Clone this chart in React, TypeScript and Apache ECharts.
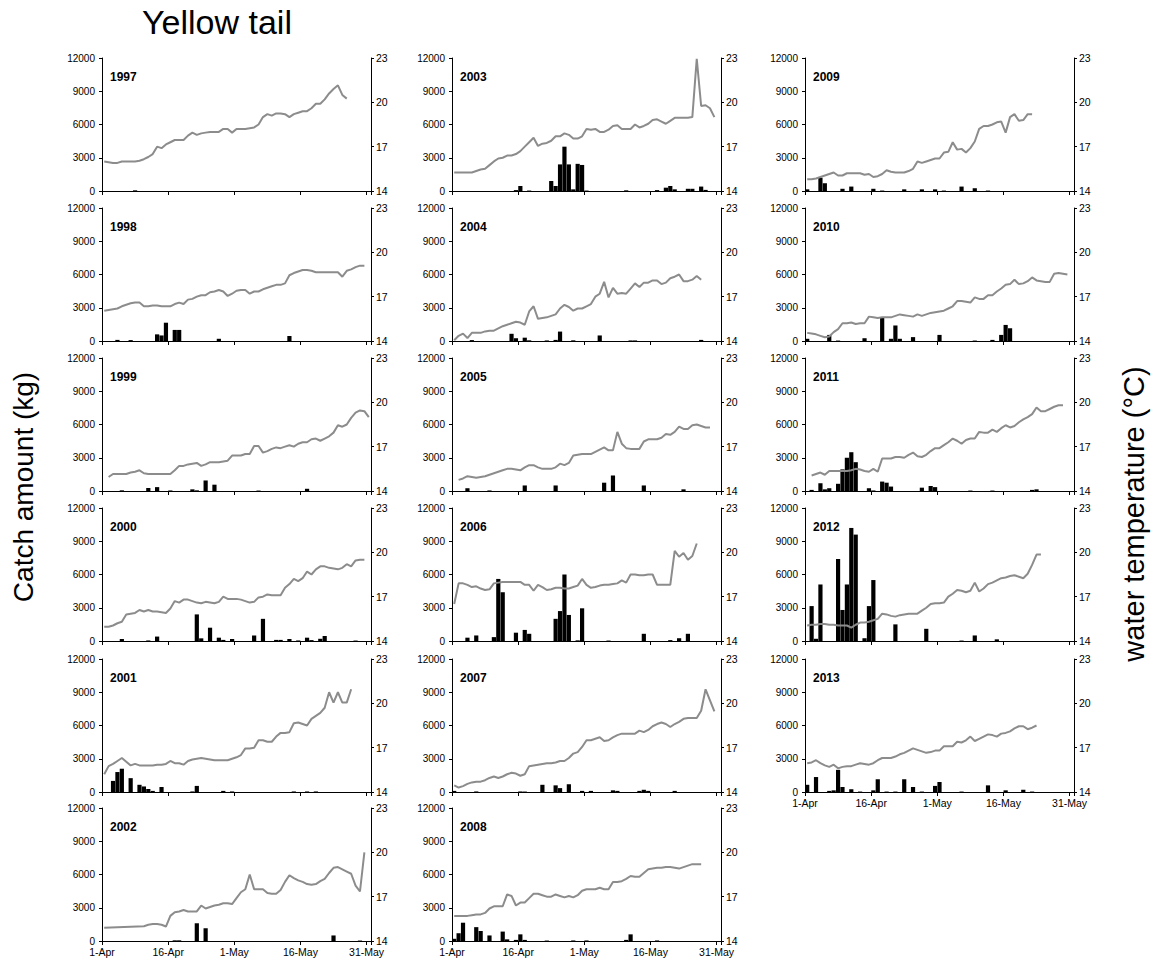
import React, { useEffect, useRef } from 'react';
import * as echarts from 'echarts';

// ---------- tick labels ----------
const dateTicks = ['1-Apr', '16-Apr', '1-May', '16-May', '31-May'];

// ---------- daily water temperature (°C), index = day from 1-Apr, null = no data ----------
const temp1997 = [16.0,15.95,15.9,15.9,16.0,16.0,16.0,16.0,16.05,16.15,16.3,16.5,17.0,16.9,17.15,17.3,17.45,17.45,17.45,17.75,17.95,17.8,17.9,17.95,18.0,18.0,18.0,18.2,18.2,17.95,18.2,18.2,18.2,18.25,18.3,18.5,19.0,19.2,19.1,19.25,19.25,19.2,19.0,19.2,19.3,19.4,19.4,19.6,19.9,19.9,20.2,20.6,20.9,21.15,20.5,20.25];
const temp1998 = [16.05,16.1,16.15,16.2,16.35,16.45,16.55,16.6,16.6,16.35,16.35,16.4,16.4,16.35,16.35,16.35,16.5,16.6,16.5,16.8,16.85,17.0,17.1,17.1,17.3,17.35,17.45,17.35,17.05,17.2,17.4,17.45,17.45,17.2,17.35,17.35,17.5,17.6,17.7,17.8,17.8,17.9,18.45,18.6,18.7,18.8,18.8,18.75,18.65,18.65,18.65,18.65,18.65,18.65,18.35,18.75,18.85,19.0,19.1,19.1];
const temp1999 = [null,14.95,15.15,15.15,15.15,15.15,15.25,15.3,15.4,15.2,15.15,15.15,15.15,15.15,15.15,15.15,15.4,15.7,15.7,15.8,15.85,15.9,15.7,15.8,15.95,15.95,15.95,16.0,16.05,16.4,16.4,16.4,16.5,16.5,17.05,17.05,16.6,16.7,16.85,16.95,16.9,17.0,17.1,17.0,17.2,17.3,17.3,17.5,17.55,17.4,17.55,17.7,17.95,18.45,18.35,18.5,18.95,19.3,19.45,19.4,19.0];
const temp2000 = [14.97,14.97,15.05,15.2,15.3,15.8,15.85,15.9,16.1,16.0,16.1,16.0,16.0,15.95,15.9,16.2,16.7,16.6,16.8,16.8,16.7,16.6,16.55,16.65,16.6,16.55,16.65,17.0,16.85,16.85,16.85,16.8,16.7,16.6,16.65,16.95,17.0,17.15,17.1,17.1,17.1,17.6,17.85,18.2,18.05,18.25,18.7,18.5,18.85,19.05,19.05,18.95,18.9,18.85,18.95,19.2,19.05,19.45,19.5,19.5];
const temp2001 = [15.2,15.75,15.9,16.1,16.3,16.05,15.8,15.9,15.8,15.8,15.8,15.8,15.85,15.85,15.9,16.1,15.95,15.95,15.85,16.1,16.2,16.25,16.3,16.25,16.2,16.15,16.15,16.15,16.15,16.25,16.35,16.5,16.95,16.95,17.0,17.5,17.5,17.4,17.4,17.75,18.0,18.0,18.05,18.65,18.7,18.6,18.5,18.95,19.15,19.35,19.7,20.75,20.05,20.75,20.05,20.05,20.95];
const temp2002 = [14.9,null,null,null,null,null,null,null,null,15.0,15.1,15.15,15.15,15.1,14.98,15.7,15.95,16.0,16.1,16.0,16.0,16.0,16.4,16.2,16.3,16.4,16.45,16.55,16.55,16.5,16.9,17.3,17.5,18.5,17.5,17.5,17.5,17.25,17.2,17.2,17.45,18.0,18.45,18.25,18.1,18.0,17.85,17.8,17.85,18.05,18.2,18.6,18.95,19.0,18.85,18.7,18.55,17.75,17.35,20.0];
const temp2003 = [15.25,15.25,15.25,15.25,15.25,15.35,15.45,15.5,15.75,16.0,16.2,16.25,16.4,16.4,16.5,16.7,17.0,17.3,17.6,17.05,17.2,17.25,17.4,17.7,17.7,17.9,17.8,17.55,17.55,17.7,18.2,18.15,18.2,18.0,18.0,18.15,18.4,18.45,18.2,18.2,18.2,18.5,18.3,18.4,18.55,18.8,18.85,18.7,18.55,18.75,18.95,18.95,18.95,18.95,19.0,22.95,19.75,19.8,19.6,19.0];
const temp2004 = [14.05,14.35,14.5,14.2,14.55,14.55,14.55,14.65,14.7,14.7,14.85,15.0,15.1,15.2,15.3,15.25,15.1,16.0,16.35,15.5,15.55,15.6,15.7,15.8,16.2,16.45,16.3,16.05,16.2,16.2,16.35,16.5,17.0,17.2,18.0,16.95,17.6,17.2,17.25,17.2,17.55,17.9,17.65,17.95,17.95,18.1,18.1,17.85,17.95,18.25,18.35,18.5,18.05,18.05,18.15,18.4,18.15];
const temp2005 = [null,14.75,14.85,15.0,14.95,14.9,14.95,15.0,15.1,15.2,15.3,15.4,15.5,15.5,15.45,15.4,15.6,15.75,15.75,15.6,15.5,15.5,15.5,15.6,15.85,15.75,15.9,16.4,16.45,16.5,16.5,16.5,16.65,16.8,16.95,16.75,16.75,18.0,17.2,16.9,16.85,16.85,16.85,17.35,17.5,17.5,17.5,17.6,17.85,17.8,18.0,18.35,18.2,18.2,18.45,18.5,18.4,18.3,18.3];
const temp2006 = [16.5,17.9,17.9,17.8,17.65,17.7,17.55,17.45,17.5,17.9,17.95,18.0,18.0,18.0,18.0,18.0,17.8,17.8,17.4,17.8,17.65,17.45,17.5,17.6,17.6,17.55,17.55,17.65,17.75,18.2,17.8,17.6,17.65,17.75,17.8,17.8,17.85,17.9,18.1,17.95,18.5,18.5,18.45,18.45,18.5,18.5,17.8,17.8,17.8,17.8,20.1,19.7,19.95,19.5,19.75,20.6];
const temp2007 = [14.45,14.3,14.4,14.55,14.65,14.7,14.7,14.8,14.95,15.05,14.95,15.05,15.2,15.3,15.25,15.1,15.2,15.75,15.8,15.85,15.9,15.95,15.95,16.0,16.1,16.1,16.3,16.6,16.7,17.05,17.5,17.5,17.6,17.7,17.45,17.5,17.7,17.85,17.95,17.95,17.95,17.95,18.15,18.05,18.2,18.45,18.6,18.7,18.6,18.4,18.6,18.75,18.95,19.0,19.0,19.0,19.5,20.95,20.2,19.45];
const temp2008 = [15.7,15.7,15.7,15.7,15.75,15.8,15.8,15.9,16.2,16.35,16.35,16.35,17.15,17.05,16.4,16.6,16.6,16.9,17.2,17.2,17.1,17.0,17.0,17.15,17.05,16.95,17.05,16.95,17.1,17.4,17.5,17.5,17.5,17.6,17.5,17.5,18.0,18.0,18.05,18.2,18.4,18.35,18.35,18.6,18.85,18.9,18.95,18.95,19.0,19.0,18.95,18.9,19.0,19.1,19.2,19.2,19.2];
const temp2009 = [14.8,14.8,14.85,14.95,15.05,15.15,15.25,15.05,15.05,15.2,15.2,15.2,15.2,15.1,15.15,14.95,15.0,15.15,15.4,15.3,15.25,15.25,15.25,15.35,15.5,16.0,15.9,16.0,16.1,16.2,16.2,16.6,16.65,17.3,16.8,16.85,16.6,16.9,17.35,18.2,18.4,18.4,18.5,18.65,18.7,17.95,19.0,19.2,18.75,18.8,19.2,19.2];
const temp2010 = [14.55,14.5,14.45,14.35,14.25,14.3,14.6,14.8,15.2,15.2,15.25,15.15,15.2,15.2,15.65,15.6,15.55,15.6,15.6,15.6,15.7,15.8,15.75,15.7,15.65,15.8,15.7,15.8,15.9,15.95,16.0,16.05,16.2,16.35,16.7,16.7,16.65,16.6,16.95,16.85,16.85,17.1,17.1,17.35,17.55,17.8,17.85,18.15,17.85,17.9,18.05,18.3,18.1,18.05,18.0,18.0,18.55,18.6,18.55,18.5];
const temp2011 = [null,15.05,15.15,15.25,15.1,15.35,15.35,15.35,15.35,15.35,15.4,15.5,15.45,15.35,15.3,15.5,15.3,16.2,16.2,16.2,16.3,16.3,16.25,16.45,16.6,16.35,16.3,16.45,16.7,16.9,16.9,17.1,17.3,17.55,17.4,17.2,17.45,17.55,17.55,18.0,17.95,17.95,18.15,18.0,18.25,18.45,18.3,18.4,18.65,18.85,19.0,19.2,19.65,19.4,19.4,19.55,19.7,19.8,19.8];
const temp2012 = [15.05,15.1,15.1,15.15,15.15,15.1,15.1,15.05,15.05,15.05,14.9,15.1,15.25,15.25,15.3,15.4,15.5,15.85,15.8,15.7,15.65,15.75,15.8,15.85,15.85,15.85,16.05,16.25,16.5,16.55,16.55,16.6,17.0,17.2,17.45,17.4,17.3,17.4,17.95,17.35,17.55,17.85,17.95,18.1,18.25,18.3,18.4,18.45,18.35,18.25,18.55,19.15,19.85,19.85];
const temp2013 = [15.95,16.0,16.15,15.95,15.8,15.7,15.85,15.6,15.7,15.75,15.75,15.85,15.95,15.9,15.85,15.95,16.15,16.3,16.3,16.3,16.4,16.55,16.65,16.8,16.95,16.85,16.75,16.65,16.7,16.8,16.8,17.1,17.1,17.1,17.4,17.35,17.5,17.75,17.45,17.6,17.75,17.9,17.85,17.75,17.95,18.0,18.1,18.3,18.45,18.45,18.25,18.35,18.5];

// ---------- daily catch (kg): [day from 1-Apr, amount] ----------
const catch1997 = [[7,60]];
const catch1998 = [[3,100],[6,80],[12,600],[13,500],[14,1650],[16,1000],[17,1000],[26,200],[42,450]];
const catch1999 = [[4,60],[10,270],[12,350],[15,50],[20,150],[21,60],[23,950],[25,570],[35,40],[46,200]];
const catch2000 = [[4,180],[10,50],[12,400],[21,2400],[22,240],[24,1200],[26,300],[27,100],[29,180],[34,500],[36,2000],[39,100],[40,100],[42,180],[44,50],[46,300],[47,80],[49,200],[50,450],[57,40]];
const catch2001 = [[2,1000],[3,1800],[4,2100],[6,1250],[8,650],[9,500],[10,270],[11,100],[13,450],[20,50],[21,550],[27,100],[29,50],[43,50],[46,50],[48,50]];
const catch2002 = [[16,60],[17,60],[21,1600],[23,1150],[52,500],[58,40]];
const catch2003 = [[14,80],[15,450],[17,40],[22,900],[23,450],[24,2400],[25,4000],[26,2400],[27,150],[28,2450],[29,2350],[30,40],[39,60],[46,80],[48,300],[49,450],[50,150],[53,200],[54,200],[56,400],[57,100]];
const catch2004 = [[4,80],[13,650],[14,250],[16,300],[17,60],[21,50],[23,100],[24,850],[27,60],[33,500],[40,50],[41,50],[56,100]];
const catch2005 = [[3,250],[8,50],[16,500],[23,500],[34,750],[36,1400],[43,500],[52,150]];
const catch2006 = [[3,300],[5,500],[9,350],[10,5600],[11,4400],[14,750],[16,1000],[17,650],[23,2000],[24,2700],[25,6000],[26,2350],[28,60],[29,2950],[35,40],[43,650],[49,80],[51,250],[53,650]];
const catch2007 = [[0,100],[5,50],[15,50],[16,40],[20,650],[23,600],[24,350],[26,700],[29,100],[31,100],[36,150],[37,100],[42,100],[43,200],[44,100],[50,100]];
const catch2008 = [[0,200],[1,700],[2,1650],[5,1250],[6,900],[8,500],[11,850],[12,150],[14,100],[15,600],[16,100],[21,40],[27,50],[30,50],[39,100],[40,600],[46,50]];
const catch2009 = [[0,150],[3,1200],[4,700],[8,200],[10,400],[15,200],[17,40],[22,150],[26,150],[29,150],[31,40],[35,400],[38,250],[41,40]];
const catch2010 = [[0,200],[5,550],[7,40],[13,250],[17,2100],[19,200],[20,1400],[21,200],[24,350],[30,550],[38,40],[42,100],[44,550],[45,1450],[46,1150]];
const catch2011 = [[1,100],[3,700],[4,150],[5,250],[7,650],[8,1950],[9,3000],[10,3500],[11,2600],[14,250],[15,50],[17,850],[18,750],[19,400],[26,300],[28,450],[29,350],[37,40],[42,40],[51,100],[52,150]];
const catch2012 = [[1,3150],[2,200],[3,5100],[7,7400],[8,2800],[9,5100],[10,10200],[11,9600],[13,250],[14,3150],[15,5500],[20,1500],[27,1100],[35,40],[38,500],[43,150]];
const catch2013 = [[0,650],[2,1350],[5,100],[6,150],[7,2000],[8,450],[10,250],[12,40],[15,150],[16,1150],[18,40],[20,40],[22,1150],[24,450],[26,40],[29,550],[30,900],[35,40],[41,600],[45,150],[49,200],[51,40]];

const years = ['1997','1998','1999','2000','2001','2002','2003','2004','2005','2006','2007','2008','2009','2010','2011','2012','2013'];
const temps = [temp1997,temp1998,temp1999,temp2000,temp2001,temp2002,temp2003,temp2004,temp2005,temp2006,temp2007,temp2008,temp2009,temp2010,temp2011,temp2012,temp2013];
const catches = [catch1997,catch1998,catch1999,catch2000,catch2001,catch2002,catch2003,catch2004,catch2005,catch2006,catch2007,catch2008,catch2009,catch2010,catch2011,catch2012,catch2013];

// ---------- layout ----------
const COL_LEFT = [102, 452, 805];
const ROW_TOP = [58, 208, 358, 508, 659, 808];
const PW = 269;
const PH = 133;
const FONT = '"Liberation Sans", Arial, Helvetica, sans-serif';

export default function App() {
  const ref = useRef<HTMLDivElement>(null);
  useEffect(() => {
    if (!ref.current) return;
    const chart = echarts.init(ref.current, null, { renderer: 'svg' });
    const grid: any[] = [];
    const xAxis: any[] = [];
    const yAxis: any[] = [];
    const series: any[] = [];
    const graphic: any[] = [];
    years.forEach((yr, i) => {
      const col = i < 6 ? 0 : i < 12 ? 1 : 2;
      const row = i < 6 ? i : i < 12 ? i - 6 : i - 12;
      const showX = i === 5 || i === 11 || i === 16;
      const left = COL_LEFT[col];
      const top = ROW_TOP[row];
      grid.push({ left, top, width: PW, height: PH, containLabel: false });
      xAxis.push({
        gridIndex: i, type: 'value', min: 0, max: 61, interval: 15,
        axisLine: { show: true, onZero: false, lineStyle: { color: '#000', width: 1 } },
        axisTick: { show: true, length: 4, lineStyle: { color: '#000', width: 1 } },
        axisLabel: {
          show: showX, fontSize: 10.5, color: '#000', margin: 5, fontFamily: FONT,
          formatter: (v: number) => (v % 15 === 0 ? dateTicks[v / 15] : ''),
        },
        splitLine: { show: false },
      });
      yAxis.push({
        gridIndex: i, type: 'value', min: 0, max: 12000, interval: 3000, position: 'left',
        axisLine: { show: true, lineStyle: { color: '#000', width: 1 } },
        axisTick: { show: true, length: 3, lineStyle: { color: '#000', width: 1 } },
        axisLabel: { fontSize: 10, color: '#000', margin: 7, fontFamily: FONT, formatter: (v: number) => String(v) },
        splitLine: { show: false },
      });
      yAxis.push({
        gridIndex: i, type: 'value', min: 14, max: 23, interval: 3, position: 'right',
        axisLine: { show: true, lineStyle: { color: '#000', width: 1 } },
        axisTick: { show: true, length: 3, lineStyle: { color: '#000', width: 1 } },
        axisLabel: { fontSize: 10.5, color: '#000', margin: 5, fontFamily: FONT, formatter: (v: number) => String(v) },
        splitLine: { show: false },
      });
      series.push({
        type: 'bar', xAxisIndex: i, yAxisIndex: 2 * i, barWidth: 4.2, silent: true,
        itemStyle: { color: '#000' },
        data: (catches[i] as number[][]).map(([d, v]) => [d + 0.5, v]),
      });
      series.push({
        type: 'line', xAxisIndex: i, yAxisIndex: 2 * i + 1, symbol: 'none', showSymbol: false,
        silent: true, z: 3,
        lineStyle: { color: '#8c8c8c', width: 2 },
        data: (temps[i] as (number | null)[])
          .map((t, d) => [d + 0.5, t])
          .filter((p) => p[1] !== null),
      });
      graphic.push({
        type: 'text', left: left + 8, top: top + 13,
        style: { text: yr, font: `bold 12px ${FONT}`, fill: '#000' },
      });
    });
    graphic.push({
      type: 'text', left: 142, top: 5,
      style: { text: 'Yellow tail', font: `34px ${FONT}`, fill: '#000' },
    });
    graphic.push({
      type: 'text', x: 23, y: 487, rotation: Math.PI / 2,
      style: { text: 'Catch amount (kg)', font: `28px ${FONT}`, fill: '#000', textAlign: 'center', textVerticalAlign: 'middle' },
    });
    graphic.push({
      type: 'text', x: 1134, y: 514, rotation: Math.PI / 2,
      style: { text: 'water temperature (°C)', font: `29px ${FONT}`, fill: '#000', textAlign: 'center', textVerticalAlign: 'middle' },
    });
    chart.setOption({
      animation: false,
      backgroundColor: '#fff',
      textStyle: { fontFamily: FONT },
      grid, xAxis, yAxis, series, graphic,
    });
    return () => chart.dispose();
  }, []);
  return (
    <div
      ref={ref}
      style={{ position: 'absolute', left: 0, top: 0, width: 1156, height: 969, background: '#fff' }}
    />
  );
}
